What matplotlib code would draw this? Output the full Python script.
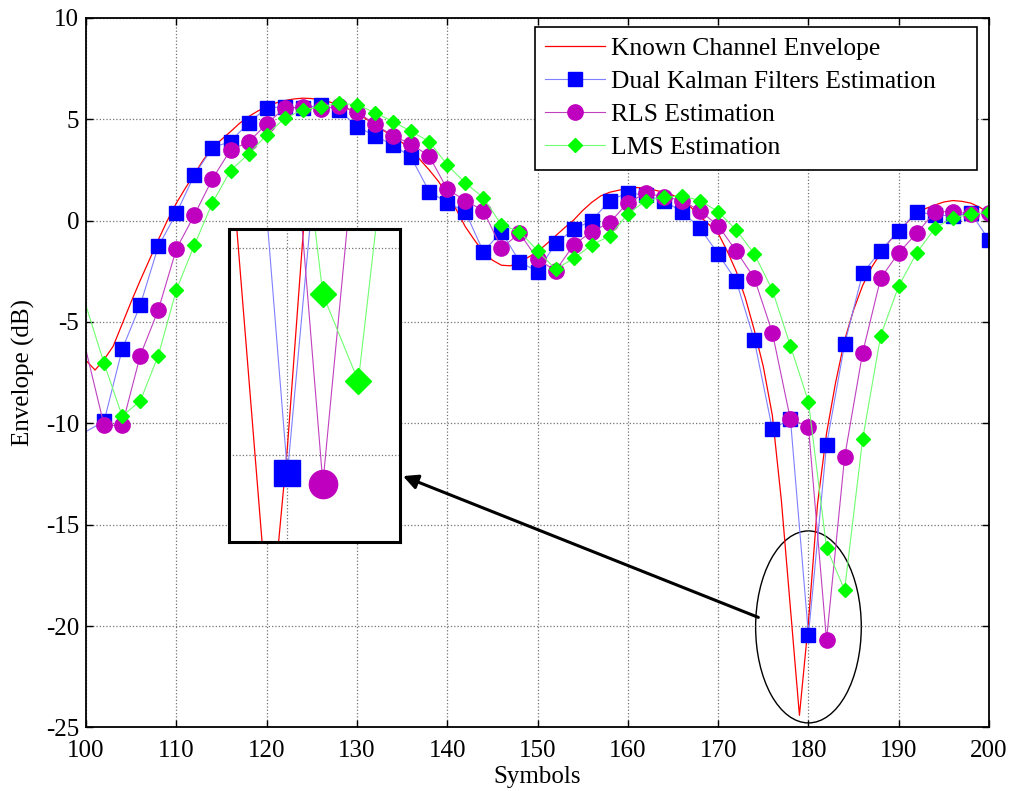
import numpy as np
import matplotlib
matplotlib.use("Agg")
import matplotlib.pyplot as plt
from matplotlib.patches import Ellipse

plt.rcParams['font.family'] = ['Liberation Serif', 'DejaVu Serif']
plt.rcParams['axes.unicode_minus'] = False

# symbol index of the true envelope (every symbol) and of the estimates (every 2nd)
sym_fine = np.arange(100, 201)
sym = np.arange(100, 201, 2)

known = [-6.9, -7.37, -6.85, -6.2, -5.1, -4.0, -2.95, -1.95, -0.95, 0.0,
         0.86, 1.6, 2.3, 3.0, 3.6, 4.0, 4.39, 4.8, 5.13, 5.4,
         5.62, 5.8, 5.92, 6.0, 6.04, 6.02, 5.95, 5.85, 5.71, 5.52,
         5.3, 5.02, 4.72, 4.43, 4.14, 3.85, 3.5, 3.0, 2.5, 1.95,
         1.3, 0.55, -0.3, -0.95, -1.55, -1.95, -2.2, -2.23, -2.05, -1.8,
         -1.53, -1.15, -0.75, -0.35, 0.03, 0.5, 0.9, 1.22, 1.4, 1.5,
         1.58, 1.63, 1.6, 1.5, 1.4, 1.25, 1.0, 0.65, 0.2, -0.2,
         -0.62, -1.5, -2.5, -3.8, -5.4, -7.2, -9.6, -13.8, -19.1, -24.4,
         -19.8, -14.0, -10.5, -8.0, -5.9, -4.4, -3.2, -2.3, -1.6, -1.0,
         -0.55, -0.05, 0.36, 0.6, 0.77, 0.92, 0.99, 0.95, 0.86, 0.65,
         0.36]

kalman = [-10.4, -9.9, -6.35, -4.17, -1.27, 0.36, 2.25, 3.6, 3.9, 4.83,
          5.55, 5.62, 5.55, 5.7, 5.46, 4.64, 4.18, 3.73, 3.13, 1.43,
          0.89, 0.44, -1.53, -0.54, -2.02, -2.52, -1.12, -0.43, 0.0, 0.99,
          1.38, 1.25, 0.97, 0.44, -0.38, -1.64, -2.97, -5.89, -10.29, -9.77,
          -20.44, -11.08, -6.1, -2.6, -1.48, -0.51, 0.44, 0.28, 0.23, 0.36,
          -0.95]

rls = [-6.4, -10.1, -10.1, -6.66, -4.41, -1.4, 0.28, 2.06, 3.49, 3.87,
       4.77, 5.55, 5.58, 5.5, 5.65, 5.38, 4.75, 4.18, 3.78, 3.18,
       1.55, 0.99, 0.49, -1.36, -0.62, -1.9, -2.47, -1.2, -0.54, -0.1,
       0.89, 1.35, 1.18, 0.99, 0.48, -0.25, -1.5, -2.84, -5.52, -9.8,
       -10.16, -20.69, -11.67, -6.51, -2.84, -1.58, -0.62, 0.44, 0.44, 0.33,
       0.36]

lms = [-4.2, -7.04, -9.64, -8.9, -6.66, -3.42, -1.2, 0.88, 2.47, 3.29,
       4.23, 5.05, 5.46, 5.62, 5.79, 5.71, 5.33, 4.88, 4.4, 3.9,
       2.75, 1.86, 1.13, -0.21, -0.54, -1.48, -2.4, -1.86, -1.2, -0.75,
       0.33, 0.99, 1.15, 1.22, 0.99, 0.44, -0.46, -1.64, -3.42, -6.18,
       -8.93, -16.13, -18.22, -10.78, -5.67, -3.22, -1.58, -0.38, 0.15, 0.31,
       0.41]

labels = ['Known Channel Envelope', 'Dual Kalman Filters Estimation',
          'RLS Estimation', 'LMS Estimation']


def draw_series(ax, ms_scale=1.0):
    ax.plot(sym_fine, known, color='red', lw=0.9, label=labels[0])
    ax.plot(sym, kalman, color='#7f7fff', lw=0.8, marker='s', ms=10 * ms_scale,
            mfc='blue', mec='blue', markevery=slice(1, None), label=labels[1])
    ax.plot(sym, rls, color='#c040c0', lw=0.8, marker='o', ms=11 * ms_scale,
            mfc='#bf00bf', mec='#bf00bf', markevery=slice(1, None), label=labels[2])
    ax.plot(sym, lms, color='#70ff70', lw=0.8, marker='D', ms=7.2 * ms_scale,
            mfc='#00ff00', mec='#00ff00', markevery=slice(1, None), label=labels[3])


fig = plt.figure(figsize=(10.11, 7.91), dpi=100)
ax = fig.add_axes([0.0851, 0.0803, 0.8932, 0.8971])
draw_series(ax)

ax.set_xticks(np.arange(100, 201, 10))
ax.set_yticks(np.arange(-25, 11, 5))
ax.set_xlim(100, 200)
ax.set_ylim(-25, 10)
ax.grid(True, color='0.45', linestyle=':', linewidth=0.9)
ax.tick_params(direction='in', top=True, right=True, length=5, width=1,
               labelsize=18)
ax.tick_params(axis='x', pad=9)
ax.tick_params(axis='y', pad=5)
for s in ax.spines.values():
    s.set_linewidth(1.3)
ax.set_xlabel('Symbols', fontsize=18, labelpad=3)
ax.set_ylabel('Envelope (dB)', fontsize=18, labelpad=8)

# legend box stretched to a fixed width, text kept at the left
leg = ax.legend(loc='upper left', bbox_to_anchor=(0.4972, 0.5, 0.4895, 0.4872),
                mode='expand', borderaxespad=0, fontsize=18.4, fancybox=False,
                framealpha=1, edgecolor='black', handlelength=2.35,
                handletextpad=0.24, labelspacing=0.4, borderpad=0.4)
leg.get_frame().set_linewidth(1.2)

# ring around the deep fade and pointer to the magnified view
ax.add_patch(Ellipse((180, -20.04), 11.7, 9.47, fill=False, edgecolor='black', lw=1))
ax.annotate('', xy=(135.1, -12.6), xytext=(174.45, -19.57),
            arrowprops=dict(arrowstyle='-|>', color='black', lw=2.2,
                            mutation_scale=22, shrinkA=0, shrinkB=0))

# magnified view of the fade
axin = fig.add_axes([0.2265, 0.3148, 0.1691, 0.3957])
draw_series(axin, ms_scale=1.85)
axin.set_xticks(np.arange(100, 201, 10))
axin.set_yticks(np.arange(-25, 11, 5))
axin.set_xlim(176.7, 186.35)
axin.set_ylim(-22.1, -14.55)
axin.grid(True, color='0.45', linestyle=':', linewidth=0.9)
axin.tick_params(length=0, labelbottom=False, labelleft=False)
for s in axin.spines.values():
    s.set_linewidth(2.2)

fig.savefig('out.png', dpi=100, facecolor='white')
